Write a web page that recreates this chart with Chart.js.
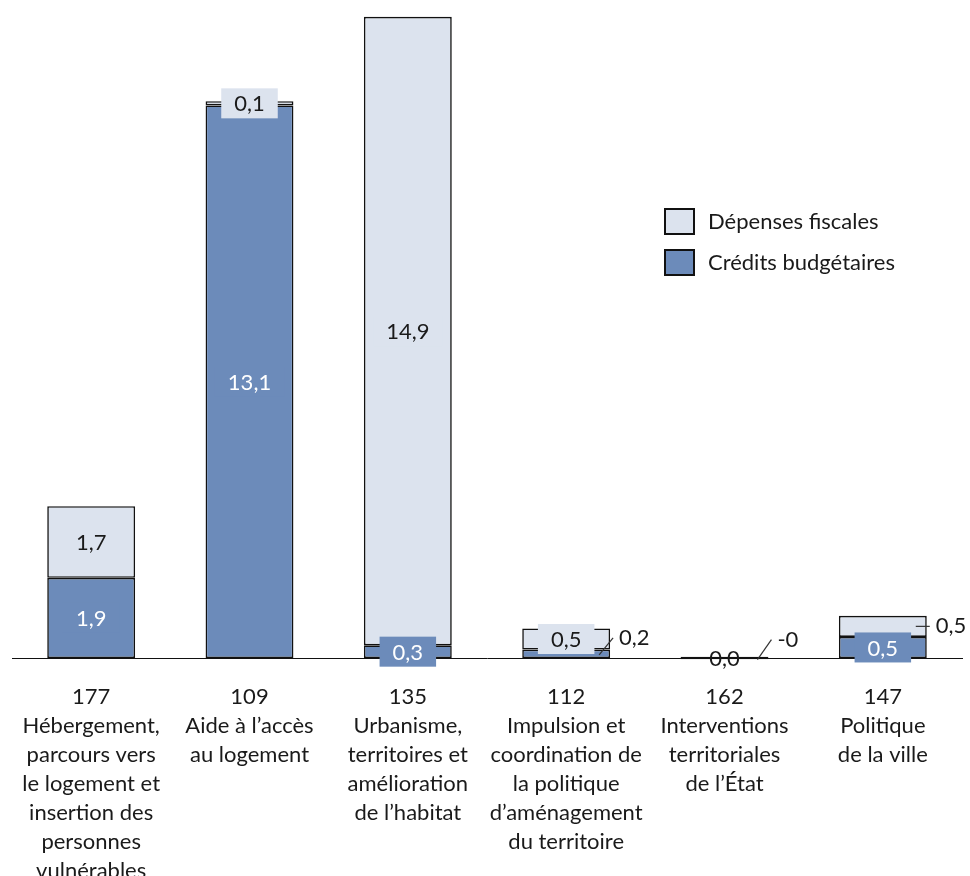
<!DOCTYPE html>
<html>
<head>
<meta charset="utf-8">
<script src="https://cdn.jsdelivr.net/npm/chart.js@4.4.1/dist/chart.umd.min.js"></script>
<style>
  html, body { margin: 0; padding: 0; background: #ffffff; }
  #wrap { width: 970px; height: 876px; }
</style>
</head>
<body>
<div id="wrap"><canvas id="c" width="970" height="876"></canvas></div>
<script>
// Programme numbers and names (one line per array entry)
const programmes = ['177', '109', '135', '112', '162', '147'];
const programmeNames = [
  ['Hébergement,', 'parcours vers', 'le logement et', 'insertion des', 'personnes', 'vulnérables'],
  ['Aide à l’accès', 'au logement'],
  ['Urbanisme,', 'territoires et', 'amélioration', 'de l’habitat'],
  ['Impulsion et', 'coordination de', 'la politique', 'd’aménagement', 'du territoire'],
  ['Interventions', 'territoriales', 'de l’État'],
  ['Politique', 'de la ville']
];

// Amounts in billions of euros
const creditsBudgetaires = [1.9, 13.1, 0.3, 0.2, 0.03, 0.5];
const depensesFiscales   = [1.7, 0.1, 14.9, 0.5, -0.03, 0.5];

const seriesNames = ['Crédits budgétaires', 'Dépenses fiscales'];

const FONT = "Lato, 'Open Sans', 'DejaVu Sans', sans-serif";
const FONT_SIZE = 22;
const BLUE = '#6c8bba';
const LIGHT = '#dce3ee';
const EDGE = '#111111';
const TEXT = '#1a1a1a';

// Labels placed beside the bar with a short leader line
const callouts = [
  { series: 0, index: 3, rise: 16 },
  { series: 1, index: 4, rise: 19 },
  { series: 1, index: 5, rise: 0 }
];

function fmt(v) {
  const r = Math.round(v * 10) / 10;
  if (v < 0 && r === 0) return '-0';
  return r.toFixed(1).replace('.', ',');
}

const labelPlugin = {
  id: 'segmentLabels',
  afterDatasetsDraw(chart) {
    const ctx = chart.ctx;
    ctx.save();
    ctx.font = FONT_SIZE + 'px ' + FONT;
    ctx.textBaseline = 'middle';
    chart.data.datasets.forEach((ds, di) => {
      const meta = chart.getDatasetMeta(di);
      meta.data.forEach((bar, i) => {
        const v = ds.data[i];
        const txt = fmt(v);
        const cy = (bar.y + bar.base) / 2;
        const right = bar.x + bar.width / 2;
        const co = callouts.find(c => c.series === di && c.index === i);
        if (co) {
          ctx.strokeStyle = '#333333';
          ctx.lineWidth = 1.2;
          ctx.beginPath();
          ctx.moveTo(right - 11, cy + (co.rise ? 1 : 0));
          ctx.lineTo(right + 3, cy - co.rise);
          ctx.stroke();
          ctx.fillStyle = TEXT;
          ctx.textAlign = 'left';
          ctx.fillText(txt, right + 9, cy - co.rise);
          return;
        }
        ctx.textAlign = 'center';
        if (Math.abs(v) < 0.05) {
          ctx.fillStyle = TEXT;
          ctx.fillText(txt, bar.x, cy + 2);
          return;
        }
        const w = ctx.measureText(txt).width + 26;
        const h = 30;
        ctx.fillStyle = ds.backgroundColor;
        ctx.fillRect(bar.x - w / 2, cy - h / 2, w, h);
        ctx.fillStyle = di === 0 ? '#ffffff' : TEXT;
        ctx.fillText(txt, bar.x, cy + 1);
      });
    });
    ctx.restore();
  }
};

const legendPlugin = {
  id: 'boxLegend',
  afterDraw(chart) {
    const ctx = chart.ctx;
    ctx.save();
    ctx.font = FONT_SIZE + 'px ' + FONT;
    ctx.textBaseline = 'middle';
    ctx.textAlign = 'left';
    // upper stacked series listed first
    const order = [1, 0];
    order.forEach((di, k) => {
      const ds = chart.data.datasets[di];
      const y = 209 + k * 41;
      ctx.fillStyle = ds.backgroundColor;
      ctx.fillRect(665, y, 29, 25);
      ctx.strokeStyle = EDGE;
      ctx.lineWidth = 2;
      ctx.strokeRect(665, y, 29, 25);
      ctx.fillStyle = TEXT;
      ctx.fillText(ds.label, 708, y + 13);
    });
    ctx.restore();
  }
};

new Chart(document.getElementById('c'), {
  type: 'bar',
  data: {
    labels: programmes.map((p, i) => [p].concat(programmeNames[i])),
    datasets: [
      { label: seriesNames[0], data: creditsBudgetaires, backgroundColor: BLUE },
      { label: seriesNames[1], data: depensesFiscales, backgroundColor: LIGHT }
    ]
  },
  options: {
    responsive: false,
    animation: false,
    devicePixelRatio: 1,
    layout: { padding: { left: 12, right: 8, top: 0, bottom: 0 } },
    datasets: {
      bar: {
        borderColor: EDGE,
        borderWidth: 1.6,
        borderSkipped: false,
        barPercentage: 0.555,
        categoryPercentage: 1,
        clip: false
      }
    },
    plugins: {
      legend: { display: false },
      tooltip: { enabled: false }
    },
    scales: {
      x: {
        stacked: true,
        grid: { display: false, drawTicks: false, tickLength: 0 },
        border: { display: true, color: '#111111', width: 1 },
        ticks: {
          color: TEXT,
          font: { family: FONT, size: FONT_SIZE, lineHeight: 1.32 },
          padding: 24,
          maxRotation: 0,
          minRotation: 0,
          autoSkip: false
        },
        afterFit(scale) {
          scale.height = 218;
          scale.paddingLeft = 0;
          scale.paddingRight = 0;
        }
      },
      y: {
        stacked: true,
        display: false,
        min: 0,
        max: 15.6
      }
    }
  },
  plugins: [labelPlugin, legendPlugin]
});
</script>
</body>
</html>
